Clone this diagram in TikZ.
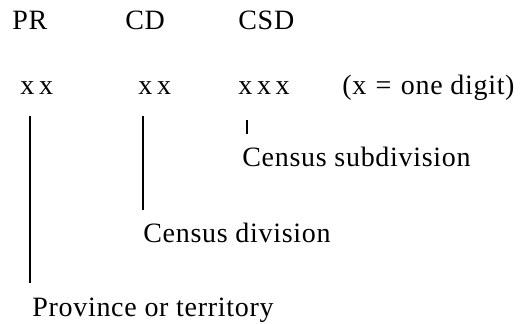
\documentclass[tikz,border=0pt]{standalone}
\usepackage{fontspec}
\setmainfont{Liberation Serif}
\newfontfamily\labfont[LetterSpace=2.5]{Liberation Serif}
\begin{document}
\begin{tikzpicture}[x=0.5pt,y=-0.5pt,
    lab/.style={anchor=base west,inner sep=0pt,font=\labfont\fontsize{14}{16}\selectfont}]
      \useasboundingbox (0,0) rectangle (521,324);
      \draw
        (12,30) node[lab] (pr){PR}
        (125,30) node[lab] (cd){CD}
        (238,30) node[lab] (csd){CSD}
        (20,95) node[lab] (prx){x\,x}
        (138,95) node[lab] (cdx){x\,x}
        (238,95) node[lab] (csdx){x\,x\,x}
        (342,95) node[lab] (note){(x\,\,=\,\,one digit)}
        (242,167) node[lab] (csdlab){Census subdivision}
        (143,243) node[lab] (cdlab){Census division}
        (32,317) node[lab] (prlab){Province or territory};
      \coordinate (prtop) at (30,116);
      \coordinate (prend) at (30,283);
      \coordinate (cdtop) at (143,116);
      \coordinate (cdend) at (143,210);
      \coordinate (csdtop) at (247,120);
      \coordinate (csdend) at (247,134);
      \begin{scope}[-,line width=1pt]
        \draw (prtop) to (prend);
        \draw (cdtop) to (cdend);
        \draw (csdtop) to (csdend);
      \end{scope}
    \end{tikzpicture}
\end{document}
